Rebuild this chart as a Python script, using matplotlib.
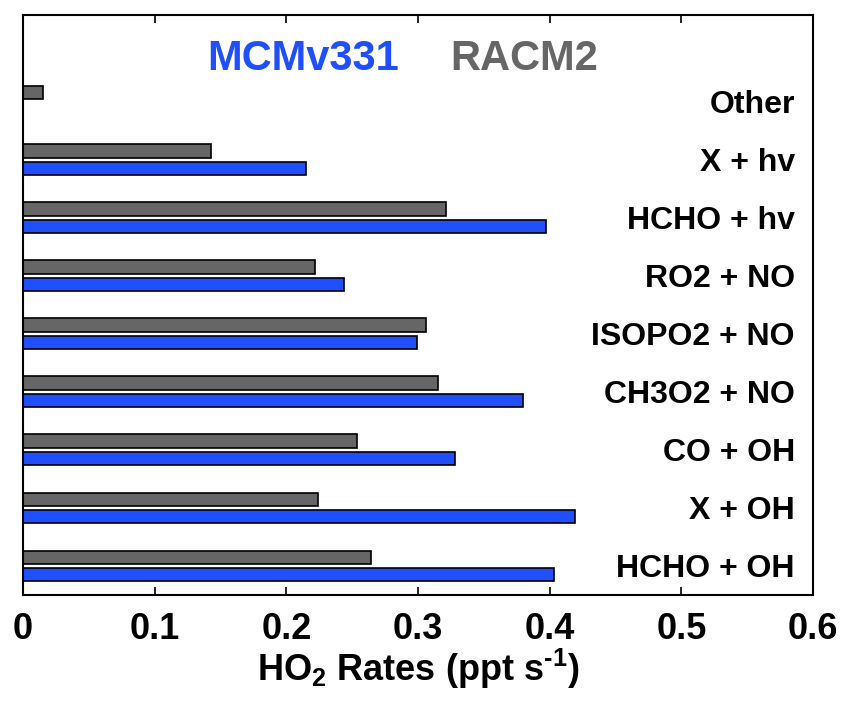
import matplotlib
matplotlib.use("Agg")
import matplotlib.pyplot as plt
import matplotlib.transforms as mtransforms
import numpy as np

plt.rcParams['font.family'] = ['Liberation Sans', 'DejaVu Sans']
plt.rcParams['mathtext.fontset'] = 'custom'
plt.rcParams['mathtext.rm'] = 'Liberation Sans:bold'
plt.rcParams['mathtext.default'] = 'rm'

# categories from bottom to top
categories = ['HCHO + OH', 'X + OH', 'CO + OH', 'CH3O2 + NO', 'ISOPO2 + NO',
              'RO2 + NO', 'HCHO + hv', 'X + hv', 'Other']
mcm_rates  = [0.403, 0.419, 0.328, 0.380, 0.299, 0.244, 0.397, 0.215, 0.0]
racm_rates = [0.264, 0.224, 0.254, 0.315, 0.306, 0.222, 0.321, 0.143, 0.015]
xticks = [0, 0.1, 0.2, 0.3, 0.4, 0.5, 0.6]
xticklabels = ['0', '0.1', '0.2', '0.3', '0.4', '0.5', '0.6']

blue = '#1f4fff'
gray = '#666666'

W, H = 844, 711
fig = plt.figure(figsize=(W / 100, H / 100), dpi=100)
ax = fig.add_axes([23 / W, 1 - 595 / H, 790 / W, 580 / H])

y = np.arange(len(categories))
ax.barh(y + 0.15, racm_rates, height=0.23, color=gray, edgecolor='black', lw=1.2)
ax.barh(y - 0.15, mcm_rates, height=0.23, color=blue, edgecolor='black', lw=1.2)

trans = mtransforms.blended_transform_factory(ax.transAxes, ax.transData)
for yi, name in zip(y, categories):
    ax.text(0.977, yi, name, transform=trans,
            ha='right', va='center_baseline', fontsize=23, fontweight='bold')

ax.set_xlim(0, 0.6)
ax.set_ylim(-0.5, 9.49)
ax.set_xticks(xticks)
ax.set_xticklabels(xticklabels, fontsize=26, fontweight='bold')
ax.set_yticks([])
ax.tick_params(axis='x', direction='in', length=6, width=1.2, top=True, pad=12)
for s in ax.spines.values():
    s.set_linewidth(1.5)

ax.set_xlabel(r'HO$_2$ Rates (ppt s$^{\text{-}1}$)', fontsize=26,
              fontweight='bold', labelpad=0)

fig.text(207 / W, 1 - 59 / H, 'MCMv331', color=blue, fontsize=30,
         fontweight='bold', ha='left', va='center')
fig.text(450 / W, 1 - 59 / H, 'RACM2', color=gray, fontsize=30,
         fontweight='bold', ha='left', va='center')

fig.savefig('out.png', dpi=100)
